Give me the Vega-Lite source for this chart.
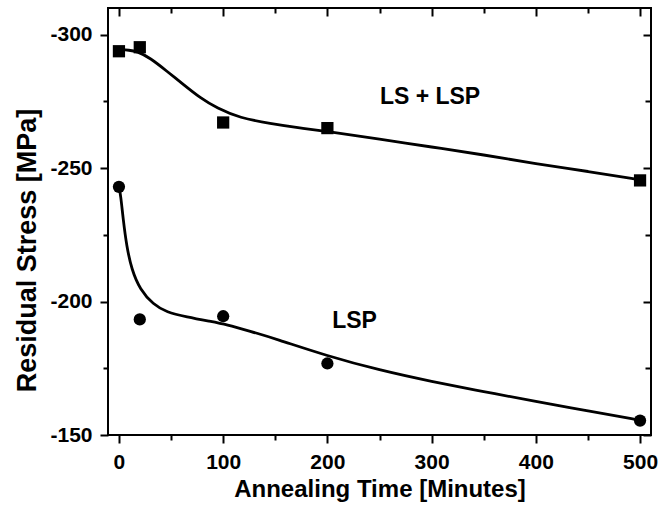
{
  "$schema": "https://vega.github.io/schema/vega-lite/v6.json",
  "width": 543,
  "height": 427,
  "autosize": {"type": "none"},
  "padding": {"left": 108, "top": 8, "right": 21, "bottom": 72},
  "background": "white",
  "config": {
    "view": {"stroke": "black", "strokeWidth": 2},
    "font": "Liberation Sans",
    "axis": {
      "grid": false,
      "domain": false,
      "ticks": true,
      "tickColor": "black",
      "tickWidth": 2,
      "labelFont": "Liberation Sans",
      "labelFontSize": 21,
      "labelFontWeight": "bold",
      "labelColor": "black",
      "titleFont": "Liberation Sans",
      "titleFontWeight": "bold",
      "titleColor": "black"
    }
  },
  "datasets": {
    "points": [
      {"series": "LS + LSP", "time": 0, "stress": -293.8},
      {"series": "LS + LSP", "time": 20, "stress": -295.3},
      {"series": "LS + LSP", "time": 100, "stress": -267.1},
      {"series": "LS + LSP", "time": 200, "stress": -265.0},
      {"series": "LS + LSP", "time": 500, "stress": -245.4},
      {"series": "LSP", "time": 0, "stress": -243.0},
      {"series": "LSP", "time": 20, "stress": -193.3},
      {"series": "LSP", "time": 100, "stress": -194.5},
      {"series": "LSP", "time": 200, "stress": -176.8},
      {"series": "LSP", "time": 500, "stress": -155.4}
    ],
    "fits": [
      {"series": "LS + LSP", "time": 0, "stress": -294.4},
      {"series": "LS + LSP", "time": 10, "stress": -294.2},
      {"series": "LS + LSP", "time": 17, "stress": -293.8},
      {"series": "LS + LSP", "time": 30, "stress": -291.3},
      {"series": "LS + LSP", "time": 46, "stress": -286.3},
      {"series": "LS + LSP", "time": 62, "stress": -281.3},
      {"series": "LS + LSP", "time": 78, "stress": -276.3},
      {"series": "LS + LSP", "time": 94, "stress": -272.5},
      {"series": "LS + LSP", "time": 116, "stress": -268.8},
      {"series": "LS + LSP", "time": 145, "stress": -266.7},
      {"series": "LS + LSP", "time": 174, "stress": -265.0},
      {"series": "LS + LSP", "time": 200, "stress": -263.8},
      {"series": "LS + LSP", "time": 250, "stress": -260.9},
      {"series": "LS + LSP", "time": 300, "stress": -257.9},
      {"series": "LS + LSP", "time": 350, "stress": -255.0},
      {"series": "LS + LSP", "time": 400, "stress": -251.6},
      {"series": "LS + LSP", "time": 450, "stress": -248.8},
      {"series": "LS + LSP", "time": 500, "stress": -245.6},
      {"series": "LSP", "time": 0, "stress": -243.0},
      {"series": "LSP", "time": 1.6, "stress": -240.1},
      {"series": "LSP", "time": 4.1, "stress": -230.7},
      {"series": "LSP", "time": 7.4, "stress": -220.7},
      {"series": "LSP", "time": 12.2, "stress": -212.0},
      {"series": "LSP", "time": 20.2, "stress": -204.5},
      {"series": "LSP", "time": 32.9, "stress": -198.9},
      {"series": "LSP", "time": 45.7, "stress": -196.0},
      {"series": "LSP", "time": 64.9, "stress": -194.3},
      {"series": "LSP", "time": 87.3, "stress": -192.6},
      {"series": "LSP", "time": 103.3, "stress": -191.4},
      {"series": "LSP", "time": 125.7, "stress": -188.9},
      {"series": "LSP", "time": 150, "stress": -186.1},
      {"series": "LSP", "time": 200, "stress": -179.6},
      {"series": "LSP", "time": 250, "stress": -174.3},
      {"series": "LSP", "time": 300, "stress": -170.0},
      {"series": "LSP", "time": 350, "stress": -166.3},
      {"series": "LSP", "time": 400, "stress": -162.5},
      {"series": "LSP", "time": 450, "stress": -159.1},
      {"series": "LSP", "time": 500, "stress": -155.5}
    ],
    "labels": [
      {"label": "LS + LSP", "time": 298.5, "stress": -274.1},
      {"label": "LSP", "time": 226, "stress": -190.1}
    ]
  },
  "resolve": {"scale": {"x": "independent", "y": "independent"}},
  "layer": [
    {
      "data": {"name": "fits"},
      "mark": {"type": "line", "color": "black", "strokeWidth": 2.8, "interpolate": "basis"},
      "encoding": {
        "x": {
          "field": "time", "type": "quantitative",
          "scale": {"domain": [-10.5, 510.5], "nice": false, "zero": false},
          "axis": {
            "orient": "bottom",
            "values": [0, 100, 200, 300, 400, 500],
            "tickSize": 8,
            "labelPadding": 8,
            "labelExpr": "'' + datum.value",
            "title": "Annealing Time [Minutes]",
            "titleFontSize": 24,
            "titlePadding": 5
          }
        },
        "y": {
          "field": "stress", "type": "quantitative",
          "scale": {"domain": [-310, -150], "nice": false, "zero": false, "reverse": true},
          "axis": {
            "orient": "left",
            "values": [-300, -250, -200, -150],
            "tickSize": 8,
            "labelPadding": 8,
            "labelExpr": "'' + datum.value",
            "title": "Residual Stress [MPa]",
            "titleFontSize": 27,
            "titlePadding": 8,
            "titleY": 242
          }
        },
        "detail": {"field": "series", "type": "nominal"}
      }
    },
    {
      "data": {"name": "points"},
      "mark": {"type": "point", "filled": true, "color": "black", "opacity": 1, "size": 150},
      "encoding": {
        "x": {
          "field": "time", "type": "quantitative",
          "scale": {"domain": [-10.5, 510.5], "nice": false, "zero": false},
          "axis": {
            "orient": "top",
            "offset": -8,
            "values": [0, 100, 200, 300, 400, 500],
            "tickSize": 8,
            "labelExpr": "''",
            "title": null
          }
        },
        "y": {
          "field": "stress", "type": "quantitative",
          "scale": {"domain": [-310, -150], "nice": false, "zero": false, "reverse": true},
          "axis": {
            "orient": "right",
            "offset": -8,
            "values": [-300, -250, -200, -150],
            "tickSize": 8,
            "labelExpr": "''",
            "title": null
          }
        },
        "shape": {
          "field": "series", "type": "nominal",
          "scale": {"domain": ["LS + LSP", "LSP"], "range": ["square", "circle"]},
          "legend": null
        }
      }
    },
    {
      "data": {"name": "labels"},
      "transform": [{"filter": "datum.label === 'LS + LSP'"}],
      "mark": {"type": "text", "font": "Liberation Sans", "fontSize": 23, "fontWeight": "bold", "color": "black", "align": "center", "baseline": "alphabetic"},
      "encoding": {
        "x": {
          "field": "time", "type": "quantitative",
          "scale": {"domain": [-10.5, 510.5], "nice": false, "zero": false},
          "axis": {
            "orient": "bottom",
            "values": [50, 150, 250, 350, 450],
            "tickSize": 5,
            "labelExpr": "''",
            "title": null
          }
        },
        "y": {
          "field": "stress", "type": "quantitative",
          "scale": {"domain": [-310, -150], "nice": false, "zero": false, "reverse": true},
          "axis": {
            "orient": "left",
            "values": [-275, -225, -175],
            "tickSize": 5,
            "labelExpr": "''",
            "title": null
          }
        },
        "text": {"field": "label", "type": "nominal"}
      }
    },
    {
      "data": {"name": "labels"},
      "transform": [{"filter": "datum.label === 'LSP'"}],
      "mark": {"type": "text", "font": "Liberation Sans", "fontSize": 23, "fontWeight": "bold", "color": "black", "align": "center", "baseline": "alphabetic"},
      "encoding": {
        "x": {
          "field": "time", "type": "quantitative",
          "scale": {"domain": [-10.5, 510.5], "nice": false, "zero": false},
          "axis": {
            "orient": "top",
            "offset": -5,
            "values": [50, 150, 250, 350, 450],
            "tickSize": 5,
            "labelExpr": "''",
            "title": null
          }
        },
        "y": {
          "field": "stress", "type": "quantitative",
          "scale": {"domain": [-310, -150], "nice": false, "zero": false, "reverse": true},
          "axis": {
            "orient": "right",
            "offset": -6,
            "values": [-275, -225, -175],
            "tickSize": 6,
            "labelExpr": "''",
            "title": null
          }
        },
        "text": {"field": "label", "type": "nominal"}
      }
    }
  ]
}
